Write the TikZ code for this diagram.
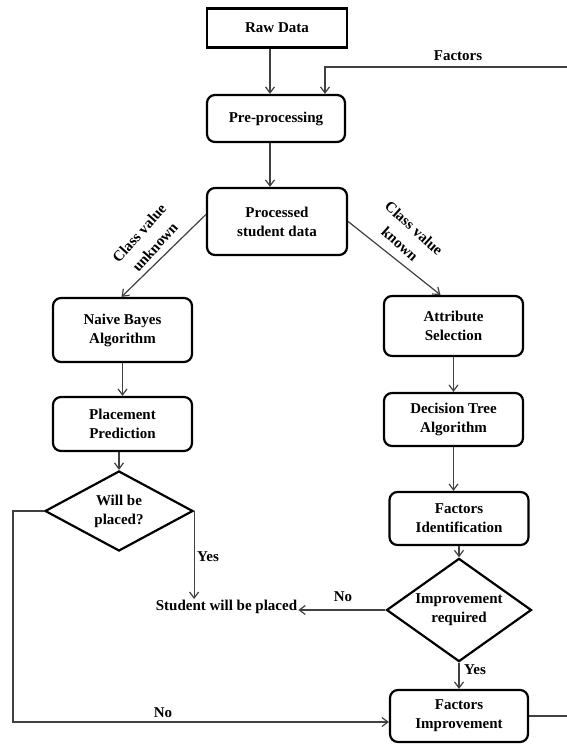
\documentclass[tikz,border=0pt]{standalone}
\usepackage{fontspec}
\setmainfont{Liberation Serif}
\usetikzlibrary{shapes.geometric,arrows.meta}
\begin{document}
\begin{tikzpicture}[x=1pt,y=-1pt,
  font=\bfseries\fontsize{15}{19}\selectfont,
  box/.style={draw=black, line width=2.2pt, rounded corners=8pt, align=center, inner sep=0pt},
  plainbox/.style={box, rounded corners=0pt},
  decision/.style={draw=black, line width=2.2pt, shape=diamond, align=center, inner sep=-4pt},
  conn/.style={draw=black!75, line width=1.2pt, -{Straight Barb[length=6pt,width=9pt]}},
  lbl/.style={inner sep=0pt, align=center}]
\useasboundingbox (0,0) rectangle (566,744);

% process boxes
\node[plainbox, minimum width=140pt, minimum height=39pt] (raw) at (277,28) {Raw Data};
\node[box, minimum width=138pt, minimum height=47pt] (pre) at (276,118.5) {Pre-processing};
\node[box, minimum width=140pt, minimum height=67pt] (proc) at (277,221.5) {Processed\\student data};
\node[box, minimum width=139pt, minimum height=64pt] (nb) at (122.5,330) {Naive Bayes\\Algorithm};
\node[box, minimum width=139pt, minimum height=54pt] (pp) at (122.5,424) {Placement\\Prediction};
\node[box, minimum width=139pt, minimum height=60pt] (attr) at (453.5,326) {Attribute\\Selection};
\node[box, minimum width=139pt, minimum height=53pt] (dt) at (453.5,419.5) {Decision Tree\\Algorithm};
\node[box, minimum width=139pt, minimum height=53pt] (fi) at (459,518.5) {Factors\\Identification};
\node[box, minimum width=138pt, minimum height=52pt] (fimp) at (459,716) {Factors\\Improvement};

% decisions
\node[decision, minimum width=148pt, minimum height=80pt] (wbp) at (119,511) {Will be\\placed?};
\node[decision, minimum width=145pt, minimum height=82pt] (ir) at (459,610) {Improvement\\required};

% outcome
\node[lbl, inner sep=1pt] (student) at (226.5,607) {Student will be placed};

% loop corners
\coordinate (rtop) at (580,67);
\coordinate (rbot) at (580,716);
\coordinate (lc) at (13,722);

% connectors
\draw[conn] ([xshift=-7pt]raw.south) -- ([xshift=-7pt]raw.south |- pre.north);
\draw[conn] (fimp.east) -- (rbot) -- (rtop) -- ([xshift=49pt]pre.north |- rtop) -- ([xshift=49pt]pre.north);
\node[lbl] (lfactors) at (458,56) {Factors};
\draw[conn] ([xshift=-6pt]pre.south) -- ([xshift=-6pt]pre.south |- proc.north);

\draw[conn] ([yshift=7pt]proc.west) -- ([xshift=-1pt]nb.north);
\node[lbl, rotate=48] (lunknown) at (147,240) {Class value\\[2pt]unknown};
\draw[conn] (proc.east) -- ([xshift=-13pt]attr.north);
\node[lbl, rotate=-42] (lknown) at (407,236) {Class value\\[2pt]known};

\draw[conn] (nb.south) -- (pp.south |- nb.south) -- (pp.north);
\draw[conn] (pp.south -| wbp.north) -- (wbp.north);
\draw[conn] (wbp.east) -- (wbp.east |- student.north);
\node[lbl, anchor=west] (lyes1) at (197,557) {Yes};
\draw[conn] (wbp.west) -| (lc) -- ([yshift=-6pt]fimp.west);
\node[lbl] (lno1) at (163,713) {No};

\draw[conn] (attr.south) -- (dt.north);
\draw[conn] (dt.south) -- (dt.south |- fi.north);
\draw[conn] (fi.south) -- (ir.north);
\draw[conn] (ir.west) -- (ir.west -| student.east);
\node[lbl] (lno2) at (343,597) {No};
\draw[conn] (ir.south) -- (fimp.north);
\node[lbl, anchor=west] (lyes2) at (464,670) {Yes};
\end{tikzpicture}
\end{document}
